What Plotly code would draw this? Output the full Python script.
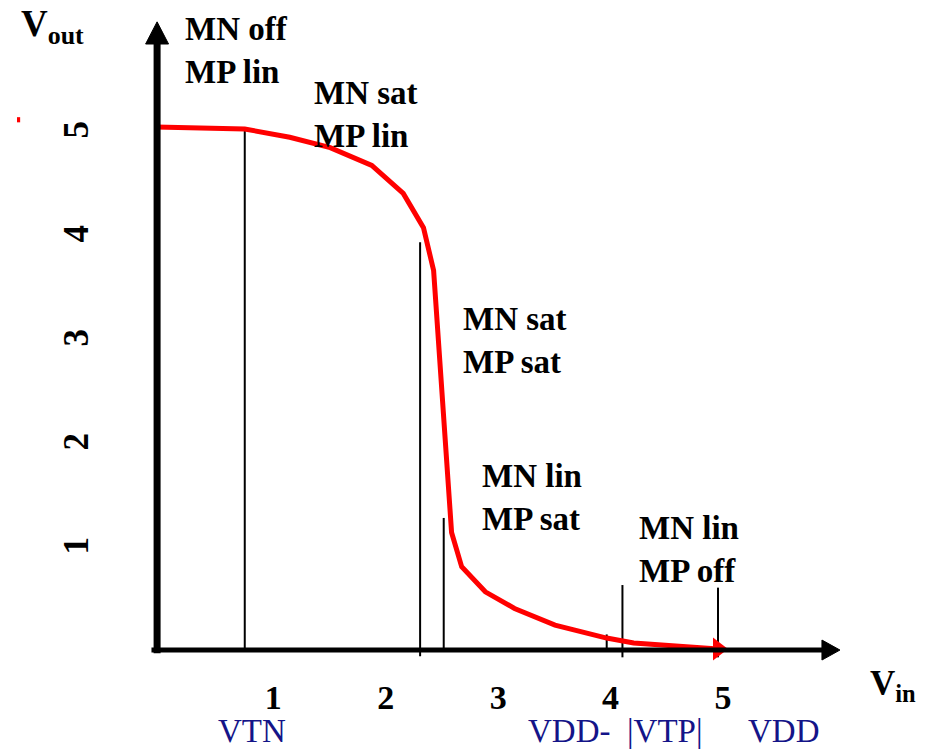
import plotly.graph_objects as go

# CMOS inverter voltage transfer characteristic (VDD = 5 V)
vin = [0.0, 0.79, 1.19, 1.55, 1.92, 2.20, 2.38, 2.47, 2.63, 2.72, 2.93, 3.19, 3.55, 4.01, 4.25, 5.0]
vout = [5.03, 5.01, 4.93, 4.83, 4.66, 4.39, 4.06, 3.65, 1.13, 0.80, 0.56, 0.40, 0.24, 0.115, 0.067, 0.01]

# region boundary markers: Vin position, top and bottom in Vout
vline_x = [0.79, 2.35, 2.56, 4.01, 4.15, 5.0]
vline_top = [5.01, 3.92, 1.27, 0.15, 0.625, 0.60]
vline_bottom = [0.0, -0.06, 0.0, 0.0, -0.07, -0.07]

tick_vals = [1, 2, 3, 4, 5]
tick_text = ["1", "2", "3", "4", "5"]

region_labels = ["MN off<br>MP lin", "MN sat<br>MP lin", "MN sat<br>MP sat",
                 "MN lin<br>MP sat", "MN lin<br>MP off"]
region_x = [0.24, 1.39, 2.71, 2.88, 4.28]
region_y = [6.165, 5.55, 3.38, 1.87, 1.37]

ref_labels = ["VTN", "VDD-&nbsp;&nbsp;|VTP|", "VDD"]
ref_x = [0.159, 0.548, 0.859]
ref_anchor = ["center", "left", "left"]

X_RANGE = [-0.142, 6.13]
Y_RANGE = [-0.115, 6.077]

SERIF = "Liberation Serif"


def to_paper(v, rng):
    return (v - rng[0]) / (rng[1] - rng[0])


fig = go.Figure()

# boundary lines
lx, ly = [], []
for x, t, b in zip(vline_x, vline_top, vline_bottom):
    lx += [x, x, None]
    ly += [b, t, None]
fig.add_trace(go.Scatter(x=lx, y=ly, mode="lines",
                         line=dict(color="black", width=2), hoverinfo="skip"))

# transfer curve
fig.add_trace(go.Scatter(x=vin, y=vout, mode="lines",
                         line=dict(color="#ff0000", width=5), hoverinfo="skip"))
fig.add_trace(go.Scatter(x=[vin[-1]], y=[vout[-1]], mode="markers",
                         marker=dict(symbol="triangle-right", size=20, color="#ff0000"),
                         hoverinfo="skip"))

# axes with arrowheads
fig.add_shape(type="line", x0=-0.04, x1=5.93, y0=0, y1=0,
              line=dict(color="black", width=5))
fig.add_shape(type="path", path="M 5.925 -0.096 L 6.085 0 L 5.925 0.096 Z",
              fillcolor="black", line=dict(color="black", width=1))
fig.add_shape(type="line", x0=0.01, x1=0.01, y0=-0.03, y1=5.83,
              line=dict(color="black", width=7))
fig.add_shape(type="path", path="M -0.092 5.827 L 0.01 6.04 L 0.112 5.827 Z",
              fillcolor="black", line=dict(color="black", width=1))

for text, x, y in zip(region_labels, region_x, region_y):
    fig.add_annotation(x=to_paper(x, X_RANGE), y=to_paper(y, Y_RANGE),
                       xref="paper", yref="paper",
                       text="<b>" + text.replace("<br>", "</b><br><b>") + "</b>",
                       showarrow=False, xanchor="left", yanchor="top", align="left",
                       font=dict(family=SERIF, size=33, color="black"))

for text, x, anchor in zip(ref_labels, ref_x, ref_anchor):
    fig.add_annotation(x=x, y=-0.107, xref="paper", yref="paper", text=text, showarrow=False,
                       xanchor=anchor, yanchor="middle",
                       font=dict(family=SERIF, size=33, color="#141488"))

fig.add_annotation(xref="paper", yref="paper", x=-0.172, y=1.026, text="<b>V<sub>out</sub></b>",
                   showarrow=False, xanchor="left", yanchor="top",
                   font=dict(family=SERIF, size=37, color="black"))
fig.add_annotation(xref="paper", yref="paper", x=1.033, y=0.0, text="<b>V<sub>in</sub></b>",
                   showarrow=False, xanchor="left", yanchor="top",
                   font=dict(family=SERIF, size=35, color="black"))

# stray red mark at left edge
fig.add_shape(type="rect", xref="paper", yref="paper",
              x0=-0.1745, x1=-0.1700, y0=0.838, y1=0.846,
              fillcolor="#ff0000", line=dict(width=0))

fig.update_layout(
    width=934, height=749,
    margin=dict(l=140, r=89, t=18, b=87),
    plot_bgcolor="white", paper_bgcolor="white",
    showlegend=False,
)
fig.update_xaxes(range=X_RANGE, showgrid=False, zeroline=False, showline=False,
                 tickvals=tick_vals, ticktext=["<b>%s</b>" % t for t in tick_text], ticks="",
                 ticklabelstandoff=12, ticklabelshift=5,
                 tickfont=dict(family=SERIF, size=34, color="black"))
fig.update_yaxes(range=Y_RANGE, showgrid=False, zeroline=False, showline=False,
                 tickvals=tick_vals, ticktext=["<b>%s</b>" % t for t in tick_text], ticks="",
                 tickangle=-90, ticklabelstandoff=44, ticklabelshift=5,
                 tickfont=dict(family=SERIF, size=35, color="black"))

fig.write_html("out.html")
